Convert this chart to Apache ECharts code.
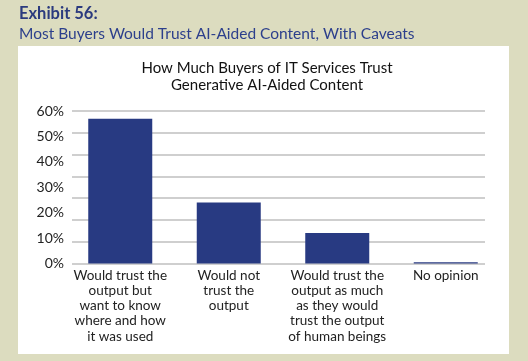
<!DOCTYPE html>
<html><head><meta charset="utf-8">
<script src="https://cdn.jsdelivr.net/npm/echarts@6/dist/echarts.min.js"></script>
<style>html,body{margin:0;padding:0;background:#dcdcbf;}#c{width:528px;height:361px;}</style>
</head><body><div id="c"></div>
<script>
const categories = [
  "Would trust the\noutput but\nwant to know\nwhere and how\nit was used",
  "Would not\ntrust the\noutput",
  "Would trust the\noutput as much\nas they would\ntrust the output\nof human beings",
  "No opinion"
];
const values = [57, 24, 12, 0.5];
const yTicks = [0, 10, 20, 30, 40, 50, 60];
const exhibit = "Exhibit 56:";
const subtitle = "Most Buyers Would Trust AI-Aided Content, With Caveats";
const chartTitle = "How Much Buyers of IT Services Trust\nGenerative AI-Aided Content";

const FONT = "Lato, 'Noto Sans', sans-serif";
const chart = echarts.init(document.getElementById('c'), null, {renderer: 'canvas'});
chart.setOption({
  backgroundColor: '#dcdcbf',
  animation: false,
  graphic: [
    {type: 'rect', shape: {x: 18, y: 46, width: 491, height: 308}, style: {fill: '#ffffff'}, z: -10},
    {type: 'text', left: 19, top: 5, style: {text: exhibit, font: 'bold 16.5px ' + FONT, fill: '#2b3a7e'}},
    {type: 'text', left: 19, top: 26, style: {text: subtitle, font: '15.5px ' + FONT, fill: '#2c3f8c'}}
  ],
  title: {
    text: chartTitle, left: 262, top: 54, textAlign: 'center',
    textStyle: {fontFamily: FONT, fontSize: 15, fontWeight: 'normal', color: '#111', lineHeight: 17.5}
  },
  grid: [
    {left: 66, width: 434, top: 111, bottom: 97.5},
    {left: 72, right: 43, top: 111, bottom: 97.5}
  ],
  xAxis: [
    {type: 'category', gridIndex: 0, data: categories,
     axisLine: {show: false}, axisTick: {show: false},
     axisLabel: {interval: 0, margin: 4, fontFamily: FONT, fontSize: 13.5, color: '#222', lineHeight: 15.3}},
    {type: 'value', gridIndex: 1, show: false}
  ],
  yAxis: [
    {type: 'value', gridIndex: 0, min: 0, max: 60, interval: 10,
     splitLine: {show: false}, axisLine: {show: false}, axisTick: {show: false},
     axisLabel: {formatter: v => yTicks.includes(v) ? v + '%' : '', margin: 2,
                 fontFamily: FONT, fontSize: 14, color: '#222'}},
    {type: 'value', gridIndex: 1, min: 0, max: 7, interval: 1,
     axisLine: {show: false}, axisTick: {show: false}, axisLabel: {show: false},
     splitLine: {show: true, lineStyle: {color: '#cfcfcf', width: 2}}}
  ],
  series: [
    {type: 'bar', xAxisIndex: 0, yAxisIndex: 0, data: values, barWidth: 64,
     itemStyle: {color: '#283a82'}, z: 5}
  ]
});
</script></body></html>
